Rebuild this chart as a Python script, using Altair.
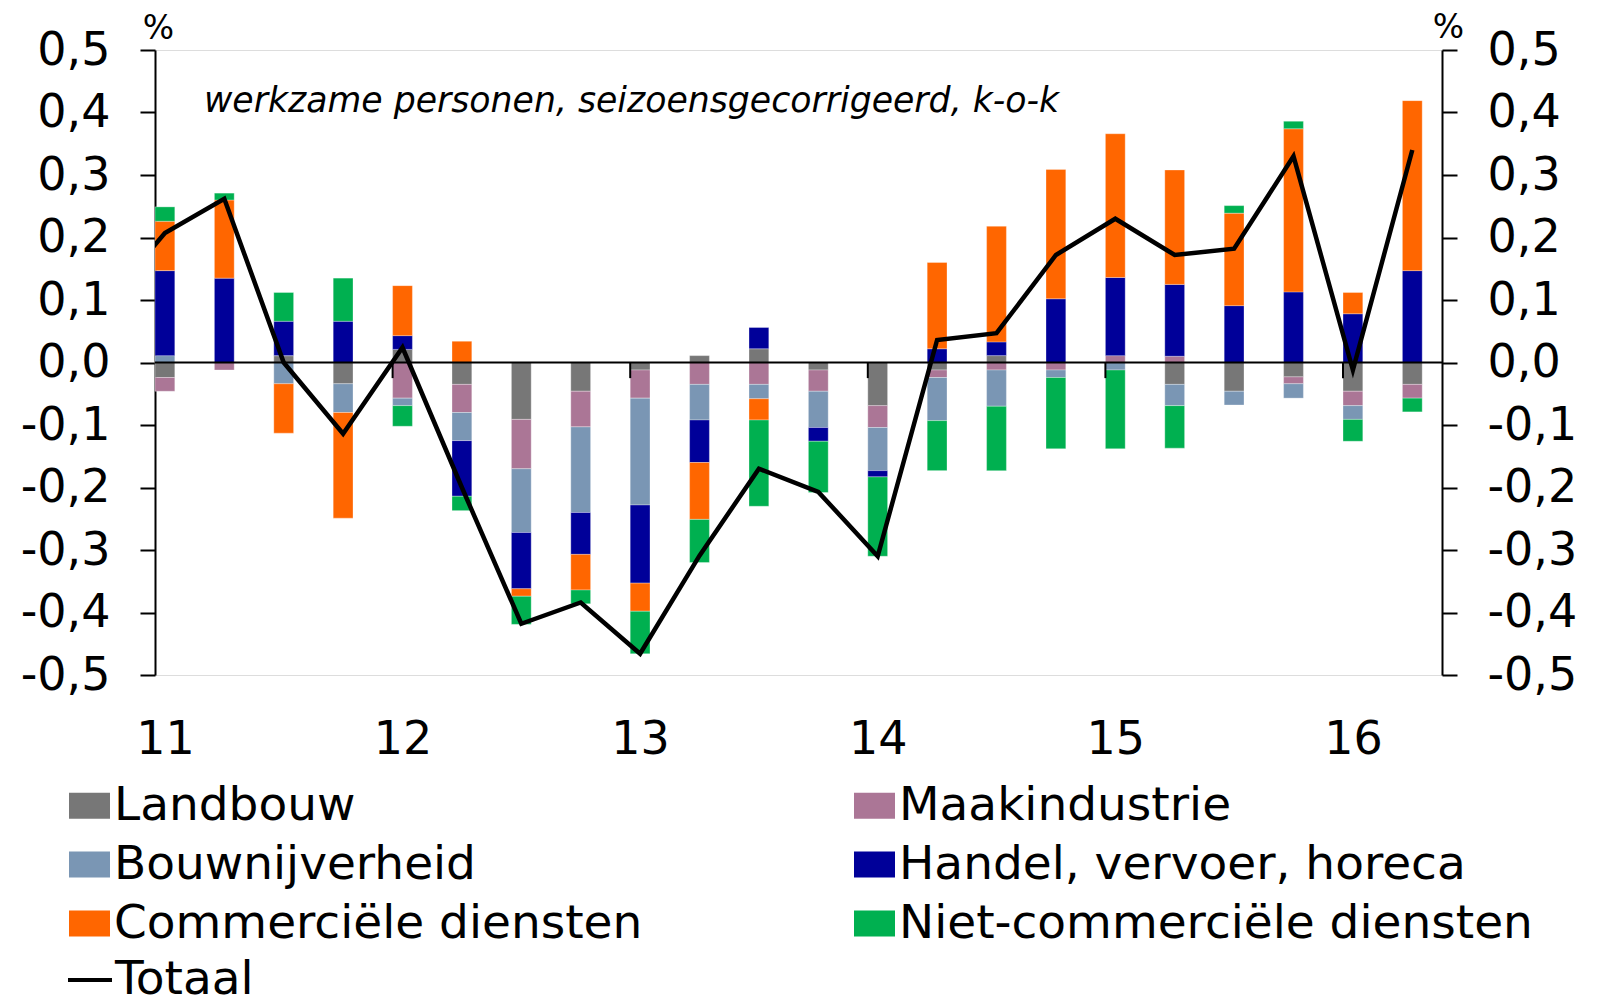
import altair as alt
import pandas as pd

# ---------------- data ----------------
quarters = ["2011K1", "2011K2", "2011K3", "2011K4",
            "2012K1", "2012K2", "2012K3", "2012K4",
            "2013K1", "2013K2", "2013K3", "2013K4",
            "2014K1", "2014K2", "2014K3", "2014K4",
            "2015K1", "2015K2", "2015K3", "2015K4",
            "2016K1", "2016K2"]

# stacking order (from the zero line outwards)
sectors = ["Landbouw", "Maakindustrie", "Bouwnijverheid",
           "Handel, vervoer, horeca", "Commerciële diensten",
           "Niet-commerciële diensten"]
sector_colors = {"Landbouw": "#777777", "Maakindustrie": "#AB7696", "Bouwnijverheid": "#7A96B4",
                 "Handel, vervoer, horeca": "#000099", "Commerciële diensten": "#FF6600",
                 "Niet-commerciële diensten": "#00B050"}
# legend order (the legend fills its two columns top to bottom)
legend_order = ["Landbouw", "Bouwnijverheid", "Commerciële diensten",
                "Maakindustrie", "Handel, vervoer, horeca", "Niet-commerciële diensten"]

landbouw = [-0.024, 0.000, 0.011, -0.034, 0.021, -0.035, -0.091, -0.046, -0.012, 0.011, 0.022,
            -0.012, -0.069, -0.012, 0.011, 0.000, 0.000, -0.035, -0.046, -0.023, -0.046, -0.035]
maakindustrie = [-0.022, -0.012, 0.000, 0.000, -0.057, -0.045, -0.079, -0.057, -0.045, -0.035, -0.035,
                 -0.034, -0.035, -0.012, -0.012, -0.012, 0.011, 0.010, 0.000, -0.011, -0.023, -0.022]
bouwnijverheid = [0.011, 0.000, -0.034, -0.046, -0.012, -0.045, -0.102, -0.137, -0.171, -0.057, -0.023,
                  -0.058, -0.069, -0.069, -0.058, -0.012, -0.012, -0.034, -0.022, -0.023, -0.022, 0.000]
handel = [0.136, 0.135, 0.055, 0.066, 0.022, -0.089, -0.090, -0.067, -0.125, -0.068, 0.034,
          -0.022, -0.010, 0.022, 0.022, 0.102, 0.125, 0.115, 0.091, 0.113, 0.078, 0.147]
commercieel = [0.079, 0.125, -0.079, -0.169, 0.080, 0.034, -0.012, -0.057, -0.045, -0.091, -0.034,
               0.000, 0.000, 0.138, 0.185, 0.207, 0.230, 0.183, 0.148, 0.261, 0.034, 0.272]
nietcommercieel = [0.023, 0.011, 0.046, 0.069, -0.033, -0.023, -0.045, -0.022, -0.068, -0.069, -0.138,
                   -0.082, -0.127, -0.080, -0.103, -0.114, -0.126, -0.068, 0.012, 0.012, -0.035, -0.022]

# total line (first point = 2010K4, only its segment up to the axis is visible)
total_quarters = ["2010K4"] + quarters
totaal = [0.095, 0.207, 0.262, 0.000, -0.114, 0.024, -0.200, -0.418, -0.384, -0.466, -0.309, -0.170,
          -0.207, -0.310, 0.036, 0.047, 0.172, 0.230, 0.172, 0.182, 0.330, -0.012, 0.340]

year_labels = ["11", "12", "13", "14", "15", "16"]
subtitle = "werkzame personen, seizoensgecorrigeerd, k-o-k"

# ---------------- tables ----------------
series_values = [landbouw, maakindustrie, bouwnijverheid, handel, commercieel, nietcommercieel]


def month_index(q):
    year = int(q[:4])
    k = int(q[-1])
    return (year - 2011) * 12 + (k - 1) * 3


rows = []
for i, q in enumerate(quarters):
    pos, neg = 0.0, 0.0
    m = month_index(q)
    for j, s in enumerate(sectors):
        v = series_values[j][i]
        if v >= 0:
            y0, y1 = pos, pos + v
            pos = y1
        else:
            y0, y1 = neg, neg + v
            neg = y1
        rows.append({"kwartaal": q, "sector": s, "waarde": v,
                     "x0": m, "x1": m + 1, "y0": y0, "y1": y1, "order": j})
bars_df = pd.DataFrame(rows)

line_df = pd.DataFrame({
    "kwartaal": total_quarters,
    "xm": [month_index(q) + 0.5 for q in total_quarters],
    "totaal": totaal,
    "reeks": ["Totaal"] * len(totaal),
})

year_bounds = pd.DataFrame({"x": [12 * k for k in range(1, 6)], "y": [0.0] * 5, "y2": [-0.025] * 5})
zero_df = pd.DataFrame({"v": [0.0]})
text_df = pd.DataFrame({"t": [subtitle]})

# ---------------- chart ----------------
FONT = "DejaVu Sans"
W, H = 1287, 625
xscale = alt.Scale(domain=[0, 65], nice=False, zero=False)
yscale = alt.Scale(domain=[-0.5, 0.5], nice=False, zero=False)
yvals = [round(-0.5 + 0.1 * k, 1) for k in range(11)]
ylabel = "(datum.value < -0.0001 ? '-' : '') + replace(format(abs(datum.value), '.1f'), '.', ',')"
year_expr = "['" + "','".join(year_labels) + "'][floor(datum.value / 12)]"

common_y_axis = dict(values=yvals, labelExpr=ylabel, grid=False, labelFontSize=46, labelFont=FONT,
                     labelColor="black", tickSize=15, tickWidth=2, tickColor="black",
                     domainColor="black", domainWidth=2, labelPadding=30,
                     title="%", titleAngle=0, titleFontSize=33, titleFont=FONT,
                     titleFontWeight="normal", titleAlign="center", titleBaseline="middle",
                     titleColor="black")

bars = alt.Chart(bars_df).mark_bar(stroke="white", strokeOpacity=0.3, strokeWidth=1).encode(
    x=alt.X("x0:Q", scale=xscale,
            axis=alt.Axis(values=[0.5 + 12 * k for k in range(len(year_labels))],
                          labelExpr=year_expr,
                          domain=False, ticks=False, grid=False, labelFontSize=46, labelFont=FONT,
                          labelColor="black", labelPadding=42, labelFlush=False, title=None)),
    x2="x1:Q",
    y=alt.Y("y0:Q", scale=yscale,
            axis=alt.Axis(orient="left", titleX=3, titleY=-22, **common_y_axis)),
    y2="y1:Q",
    fill=alt.Fill("sector:N",
                  scale=alt.Scale(domain=legend_order, range=[sector_colors[s] for s in legend_order]),
                  legend=alt.Legend(orient="none", legendX=-89, legendY=732, columns=2,
                                    columnPadding=208, rowPadding=11, title=None,
                                    labelFontSize=47, labelFont=FONT, labelColor="black",
                                    labelLimit=0, labelOffset=1, padding=0,
                                    symbolType="M-1,-0.634H1V0.634H-1Z", symbolSize=1681,
                                    symbolStrokeWidth=0, symbolOpacity=1)),
    order=alt.Order("order:Q"),
    tooltip=["kwartaal:N", "sector:N", "waarde:Q"],
)

zero_line = alt.Chart(zero_df).mark_rule(color="black", strokeWidth=2).encode(
    y=alt.Y("v:Q", scale=yscale, axis=None)
)

year_ticks = alt.Chart(year_bounds).mark_rule(color="black", strokeWidth=2).encode(
    x=alt.X("x:Q", scale=xscale),
    y=alt.Y("y:Q", scale=yscale, axis=None),
    y2="y2:Q",
)

line = alt.Chart(line_df).mark_line(strokeWidth=4.5, clip=True, strokeJoin="miter").encode(
    x=alt.X("xm:Q", scale=xscale),
    y=alt.Y("totaal:Q", scale=yscale,
            axis=alt.Axis(orient="right", titleX=6, titleY=-23, **common_y_axis)),
    stroke=alt.Stroke("reeks:N", scale=alt.Scale(domain=["Totaal"], range=["black"]),
                      legend=alt.Legend(orient="none", legendX=-89, legendY=906, title=None,
                                        labelFontSize=47, labelFont=FONT, labelColor="black",
                                        labelOffset=1, padding=0, symbolType="stroke",
                                        symbolSize=1936, symbolStrokeWidth=4,
                                        symbolStrokeColor="black")),
)

label = alt.Chart(text_df).mark_text(align="left", baseline="middle", fontStyle="italic",
                                     fontSize=34.7, font=FONT, color="black").encode(
    text="t:N", x=alt.value(49), y=alt.value(52)
)

chart = alt.layer(bars, zero_line, year_ticks, line, label).resolve_axis(
    y="independent"
).properties(
    width=W, height=H,
    autosize=alt.AutoSizeParams(type="none"),
    padding={"left": 147, "top": 42, "right": 140, "bottom": 326},
).configure_view(stroke=None).configure(font=FONT)

chart.save("out.html", embed_options={"renderer": "svg", "actions": False})
